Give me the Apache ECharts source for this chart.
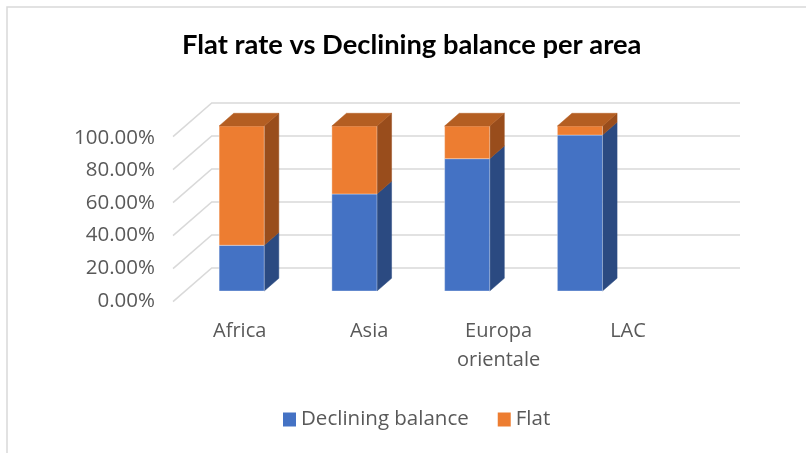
<!DOCTYPE html>
<html><head><meta charset="utf-8">
<script src="https://cdn.jsdelivr.net/npm/echarts@6/dist/echarts.min.js"></script>
<style>html,body{margin:0;padding:0;background:#fff}#c{width:806px;height:453px}</style>
</head><body><div id="c"></div>
<script>
// ---- data ----
const categories = ['Africa', 'Asia', 'Europa\norientale', 'LAC'];
const seriesNames = ['Declining balance', 'Flat'];
const decliningBalance = [0.277, 0.588, 0.802, 0.945];
const flat = [0.723, 0.412, 0.198, 0.055];
const tickValues = [0, 0.2, 0.4, 0.6, 0.8, 1.0];
const titleText = 'Flat rate vs Declining balance per area';

// ---- styles ----
const FRONT = ['#4472C4', '#ED7D31'];
const SIDE = ['#2B4A81', '#994D1C'];
const TOP = ['#3A62A8', '#B45E22'];
const GRID_COLOR = '#d9d9d9';
const TEXT_COLOR = '#595959';
const FONT = '"Open Sans", "Noto Sans", sans-serif';
// pseudo-3D geometry: floor depth vector and positions along it
const DEPTH_X = 38.7, DEPTH_Y = -33.7;
const BAR_FRONT = 0.317, BAR_DEPTH = 0.377;
const WALL_EXTRA = 103.7;

const stacks = [decliningBalance, flat];

function barRender(si) {
  return function (params, api) {
    const idx = api.value(0), start = api.value(1), end = api.value(2);
    const cx = api.coord([idx, 0])[0];
    const bandW = api.size([1, 0])[0];
    const w = bandW / 2.5;
    const x0 = cx - w / 2, x1 = cx + w / 2;
    const yb = api.coord([idx, start])[1];
    const yt = api.coord([idx, end])[1];
    const dx = BAR_DEPTH * DEPTH_X, dy = BAR_DEPTH * DEPTH_Y;
    const children = [
      { type: 'polygon', shape: { points: [[x1, yb], [x1 + dx, yb + dy], [x1 + dx, yt + dy], [x1, yt]] },
        style: { fill: SIDE[si], stroke: SIDE[si], lineWidth: 0.5 } },
      { type: 'rect', shape: { x: x0, y: yt, width: w, height: yb - yt },
        style: { fill: FRONT[si], stroke: 'rgba(255,255,255,0.35)', lineWidth: 1 } }
    ];
    if (si === stacks.length - 1) {
      children.push({ type: 'polygon', shape: { points: [[x0, yt], [x0 + dx, yt + dy], [x1 + dx, yt + dy], [x1, yt]] },
        style: { fill: TOP[si], stroke: TOP[si], lineWidth: 0.5 } });
    }
    return { type: 'group', children };
  };
}

function gridRender(params, api) {
  const cs = params.coordSys;
  const y = api.coord([0, api.value(1)])[1];
  const fx = cs.x - BAR_FRONT * DEPTH_X, fy = y - BAR_FRONT * DEPTH_Y;
  const bx = cs.x + (1 - BAR_FRONT) * DEPTH_X, by = y + (1 - BAR_FRONT) * DEPTH_Y;
  const rx = cs.x + cs.width + WALL_EXTRA;
  return { type: 'polyline', shape: { points: [[fx, fy], [bx, by], [rx, by]] },
    style: { stroke: GRID_COLOR, lineWidth: 1.5, fill: null } };
}

const series = [{
  type: 'custom', xAxisIndex: 0, yAxisIndex: 0, silent: true, z: 1,
  renderItem: gridRender, data: tickValues.map(v => [0, v])
}];
stacks.forEach((arr, si) => {
  let data = arr.map((v, i) => {
    let s = 0; for (let k = 0; k < si; k++) s += stacks[k][i];
    return [i, s, s + v];
  });
  series.push({ type: 'custom', name: seriesNames[si], xAxisIndex: 0, yAxisIndex: 0, z: 2,
    itemStyle: { color: FRONT[si] }, renderItem: barRender(si), data });
});

const chart = echarts.init(document.getElementById('c'), null, { renderer: 'canvas' });
chart.setOption({
  animation: false,
  backgroundColor: '#fff',
  title: { text: titleText, left: 182, top: 29, padding: 0,
    textStyle: { fontFamily: 'Lato, "Open Sans", sans-serif', fontWeight: 'bold', fontSize: 27.3, color: '#000', lineHeight: 33 } },
  legend: { data: seriesNames, left: 278, top: 404, icon: 'rect', itemWidth: 13, itemHeight: 14, itemGap: 29,
    textStyle: { fontFamily: FONT, fontSize: 20.5, color: TEXT_COLOR } },
  graphic: [{ type: 'rect', shape: { x: 7, y: 7, width: 830, height: 480 }, style: { fill: null, stroke: GRID_COLOR, lineWidth: 1.5 }, silent: true }],
  grid: [
    { left: 185.3, right: 169.7, top: 126, bottom: 162 },
    { left: 175, right: 113.3, top: 137.8, bottom: 152.3 }
  ],
  xAxis: [
    { type: 'category', gridIndex: 0, data: categories, show: false },
    { type: 'category', gridIndex: 1, data: categories, axisLine: { show: false }, axisTick: { show: false },
      axisLabel: { margin: 16, fontFamily: FONT, fontSize: 20, color: TEXT_COLOR, lineHeight: 29 } }
  ],
  yAxis: [
    { type: 'value', gridIndex: 0, min: 0, max: 1, interval: 0.2, show: false },
    { type: 'value', gridIndex: 1, min: 0, max: 1, interval: 0.2, splitLine: { show: false }, axisLine: { show: false },
      axisLabel: { margin: 20, fontFamily: FONT, fontSize: 20.5, color: TEXT_COLOR, formatter: v => (v * 100).toFixed(2) + '%' } }
  ],
  series
});
</script></body></html>
